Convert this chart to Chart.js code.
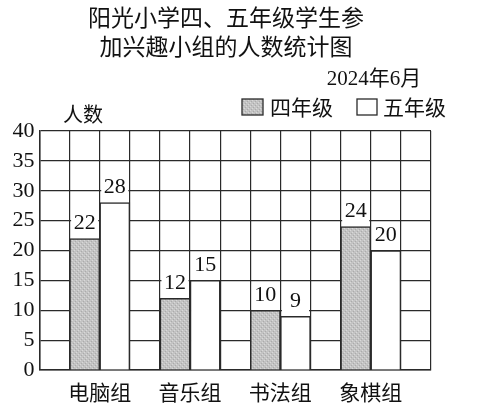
<!DOCTYPE html>
<html>
<head>
<meta charset="utf-8">
<script src="https://cdn.jsdelivr.net/npm/chart.js@4/dist/chart.umd.min.js"></script>
<style>
  html, body { margin: 0; padding: 0; background: #fff; }
  canvas { display: block; }
</style>
</head>
<body>
<canvas id="chart" width="482" height="415"></canvas>
<script>
// 数据
const categories = ['电脑组', '音乐组', '书法组', '象棋组'];
const grade4 = [22, 12, 10, 24];
const grade5 = [28, 15, 9, 20];
const yTicks = [0, 5, 10, 15, 20, 25, 30, 35, 40];
const seriesNames = ['四年级', '五年级'];

const titleLines = ['阳光小学四、五年级学生参', '加兴趣小组的人数统计图'];
const dateText = '2024年6月';
const yTitle = '人数';

const INK = '#2a2a2a';
const SERIF = "'Liberation Serif', 'DejaVu Serif', serif";
const CJK = "'Noto Sans CJK SC', 'Noto Sans', sans-serif";

// 每组占三格：空格 + 四年级 + 五年级，最后再留一格
const slots = categories.length * 3 + 1;
const slotLabels = [];
const data4 = [];
const data5 = [];
for (let i = 0; i < slots; i++) {
    const g = Math.floor(i / 3);
    slotLabels.push(i % 3 === 1 && g < categories.length ? categories[g] : '');
    data4.push(i % 3 === 1 && g < categories.length ? grade4[g] : null);
    data5.push(i % 3 === 2 && g < categories.length ? grade5[g] : null);
}

// 灰色网点填充
function makeDots() {
    const c = document.createElement('canvas');
    c.width = 4; c.height = 4;
    const g = c.getContext('2d');
    g.fillStyle = '#c3c3c3';
    g.fillRect(0, 0, 4, 4);
    g.fillStyle = '#d9d9d9';
    g.fillRect(0, 0, 1, 1);
    g.fillRect(2, 2, 1, 1);
    g.fillStyle = '#ababab';
    g.fillRect(1, 3, 1, 1);
    g.fillRect(3, 1, 1, 1);
    return g.createPattern(c, 'repeat');
}
const dots = makeDots();

// 柱顶数值（白底盖住网格线）
const valueLabels = {
    id: 'valueLabels',
    afterDatasetsDraw(chart) {
        const { ctx } = chart;
        ctx.save();
        ctx.font = '22px ' + SERIF;
        ctx.textAlign = 'center';
        ctx.textBaseline = 'middle';
        chart.data.datasets.forEach((ds, di) => {
            chart.getDatasetMeta(di).data.forEach((el, i) => {
                const v = ds.data[i];
                if (v === null) return;
                const cy = el.y - 16;
                const half = el.width / 2 - 1.5;
                ctx.fillStyle = '#fff';
                ctx.fillRect(el.x - half, cy - 10, half * 2, el.y - cy + 9);
                ctx.fillStyle = '#111';
                ctx.fillText(String(v), el.x, cy + 1);
            });
        });
        ctx.restore();
    }
};

// 标题、日期、图例、纵轴名称
const decorations = {
    id: 'decorations',
    afterDraw(chart) {
        const { ctx } = chart;
        ctx.save();
        ctx.fillStyle = '#111';
        ctx.textBaseline = 'middle';

        ctx.textAlign = 'center';
        ctx.font = '23px ' + CJK;
        ctx.fillText(titleLines[0], 226, 17);
        ctx.fillText(titleLines[1], 226, 46);

        ctx.font = '21px ' + SERIF + ', ' + CJK;
        ctx.fillText(dateText, 374, 79);

        ctx.font = '20px ' + CJK;
        ctx.fillText(yTitle, 83, 114);

        // 图例
        ctx.textAlign = 'left';
        ctx.font = '21px ' + CJK;
        ctx.lineWidth = 1.3;
        ctx.strokeStyle = INK;
        ctx.fillStyle = dots;
        ctx.fillRect(242, 99, 21, 16);
        ctx.strokeRect(242, 99, 21, 16);
        ctx.fillStyle = '#111';
        ctx.fillText(seriesNames[0], 270, 107);
        ctx.fillStyle = '#fff';
        ctx.fillRect(357, 99, 20, 16);
        ctx.strokeRect(357, 99, 20, 16);
        ctx.fillStyle = '#111';
        ctx.fillText(seriesNames[1], 383, 107);
        ctx.restore();
    }
};

new Chart(document.getElementById('chart'), {
    type: 'bar',
    data: {
        labels: slotLabels,
        datasets: [
            {
                label: seriesNames[0],
                data: data4,
                backgroundColor: dots,
                borderColor: INK,
                borderWidth: 1.5,
                grouped: false,
                barPercentage: 1,
                categoryPercentage: 1
            },
            {
                label: seriesNames[1],
                data: data5,
                backgroundColor: '#fff',
                borderColor: INK,
                borderWidth: 1.5,
                grouped: false,
                barPercentage: 1,
                categoryPercentage: 1
            }
        ]
    },
    options: {
        responsive: false,
        animation: false,
        layout: { padding: { top: 131, right: 51, left: 0, bottom: 0 } },
        plugins: {
            legend: { display: false },
            title: { display: false },
            tooltip: { enabled: false }
        },
        scales: {
            x: {
                type: 'category',
                grid: { color: INK, lineWidth: 1.2, offset: true, drawTicks: false },
                border: { color: INK, width: 1.5 },
                ticks: {
                    autoSkip: false,
                    maxRotation: 0,
                    padding: 9,
                    color: '#111',
                    font: { family: CJK, size: 21 },
                    labelOffset: 15
                },
                afterFit(scale) { scale.height = 45; }
            },
            y: {
                min: 0,
                max: 40,
                afterBuildTicks(scale) { scale.ticks = yTicks.map(v => ({ value: v })); },
                grid: { color: INK, lineWidth: 1.2, drawTicks: false },
                border: { color: INK, width: 1.5 },
                ticks: {
                    padding: 5,
                    color: '#111',
                    font: { family: SERIF, size: 22 }
                },
                afterFit(scale) { scale.width = 39.5; }
            }
        }
    },
    plugins: [valueLabels, decorations]
});
</script>
</body>
</html>
